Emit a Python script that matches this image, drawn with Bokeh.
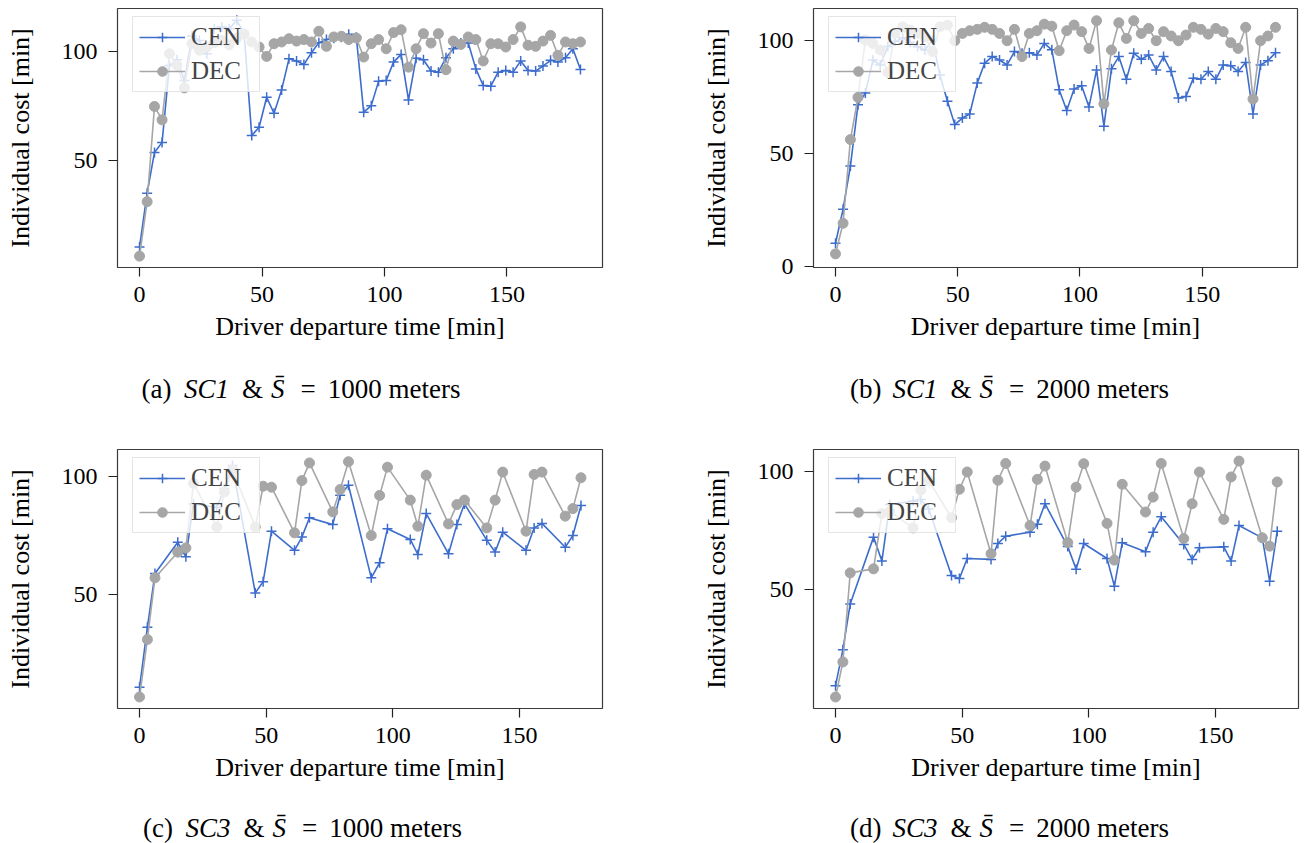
from bokeh.plotting import figure
from bokeh.models import Range1d, FixedTicker, Legend, LegendItem
from bokeh.layouts import column, row
from bokeh.core.properties import value
from bokeh.embed import file_html
from bokeh.resources import INLINE

# ---------------- data ----------------
# SC1 departure times (min)
time_sc1 = [0, 3.1, 6.1, 9.2, 12.2, 15.3, 18.3, 21.4, 24.4, 27.5, 30.5, 33.6, 36.6, 39.7,
            42.7, 45.8, 48.8, 51.9, 54.9, 58.0, 61.0, 64.1, 67.1, 70.2, 73.2, 76.3, 79.3,
            82.4, 85.4, 88.5, 91.5, 94.6, 97.6, 100.7, 103.7, 106.8, 109.8, 112.9, 115.9,
            119.0, 122.0, 125.1, 128.1, 131.2, 134.2, 137.3, 140.3, 143.4, 146.4, 149.5,
            152.5, 155.6, 158.6, 161.7, 164.7, 167.8, 170.8, 173.9, 176.9, 180.0]

cen_a = [10.6, 35.2, 53.8, 58.4, 93.5, 96.2, 86.7, 107, 105, 98.9, 110.4, 111.2, 110.4, 114.2,
         108, 61.5, 65.3, 79, 71.7, 82.4, 96.6, 95.6, 94, 99.4, 104, 105.4, 106, 106.5, 107.8,
         106.5, 72.2, 75.2, 86.4, 86.7, 95.1, 98.6, 77.8, 96.9, 96.2, 91, 90.5, 97.1, 101.2,
         103.8, 103.8, 92, 84.4, 84.1, 90.5, 91.3, 90.5, 95.6, 91.3, 91, 93.3, 95.9, 95.1,
         97.1, 101.2, 91.7]
dec_a = [6.4, 31.3, 74.8, 68.7, 98.9, 93.6, 83.3, 103.5, 100.5, 102, 104, 105, 103, 106,
         108, 104.3, 102, 97.7, 103.5, 104.3, 105.8, 104.7, 105.4, 104.3, 109.2, 102.3, 106.6,
         106.9, 105.4, 106.1, 97.4, 103.5, 105.4, 101.2, 108.6, 109.9, 92.8, 101.2, 108.1,
         103.8, 108.1, 91.6, 104.7, 103.2, 106.6, 105.4, 95.6, 103.5, 103.5, 102, 105.4,
         111.2, 102.8, 102.3, 104.7, 107.3, 98.2, 104.3, 103.5, 104.3]

cen_b = [10.4, 25.4, 44.4, 71.5, 76.6, 91.2, 89, 97.1, 99.3, 101, 99, 97, 95.6, 100, 84.6,
         73, 62.7, 65.6, 67.4, 81, 89.8, 92.7, 91.2, 89, 94.9, 94.2, 94.4, 93.4, 98.5, 95.7,
         78.1, 68.9, 78.4, 79.8, 70.5, 86.8, 62, 87.3, 92.7, 82.7, 94.2, 91.5, 93.4, 86.8,
         92.7, 86.1, 74.4, 75.1, 83.2, 82.7, 86.1, 82.7, 89, 88.7, 86.1, 90.1, 67.4, 89,
         90.9, 94.4]
dec_b = [5.7, 19.2, 56.1, 74.7, 100, 98.5, 95.6, 85.7, 103, 105.8, 104.4, 103, 101.5, 94.9,
         105.8, 106.6, 99.7, 102.9, 104.1, 104.7, 105.6, 104.7, 102.9, 99.7, 104.7, 92.7,
         102.9, 104.1, 107, 106.1, 95.3, 104.1, 106.6, 103.7, 96.3, 108.5, 71.9, 95.6, 107.6,
         100.7, 108.5, 102.9, 105.1, 99.7, 103.7, 101.8, 99.7, 102.2, 105.6, 104.7, 102.6,
         105.1, 103.7, 98.8, 96.3, 105.6, 74, 99.7, 101.8, 105.6]

# SC3 departure times (min)
time_c = [0, 3.1, 6.1, 15.1, 18.3, 21.3, 30.5, 33.5, 36.7, 45.7, 48.8, 52.1, 61.2, 64.1, 67.1,
          76.3, 79.2, 82.5, 91.5, 94.8, 97.9, 106.9, 109.9, 113.2, 122, 125.3, 128.3, 137.1,
          140.4, 143.4, 152.6, 155.8, 158.9, 168.1, 171.1, 174.3]
cen_c = [10.6, 36.1, 58.9, 72.2, 66, 88.5, 87, 95, 104.8, 50.7, 55.4, 76.9, 68.8, 74.4, 82.6,
         79.7, 92.2, 96.4, 57.1, 63.5, 77.9, 73.4, 67, 84.4, 67.3, 79.7, 88.5, 73.1, 68.1,
         76.5, 68.8, 78.3, 80.2, 70.1, 75.1, 87.8]
dec_c = [6.5, 30.9, 57.1, 68, 69.8, 97.2, 78.7, 93.5, 103, 78.7, 96, 95.6, 76.2, 98.4, 105.9,
         85.1, 94.6, 106.4, 75.1, 92.1, 104.1, 90.1, 79, 100.7, 80, 88.2, 90.1, 78.3, 90.1,
         102, 76.9, 101, 102, 83.3, 86.5, 99.6]

time_d = [0, 2.9, 5.8, 15, 18.3, 21.4, 30.6, 33.7, 36.8, 45.8, 48.9, 52, 61.4, 64.1, 67.2,
          76.8, 79.7, 82.7, 91.7, 95, 98, 107.2, 110.1, 113.2, 122.4, 125.4, 128.6, 137.5,
          140.8, 143.7, 153.3, 156.2, 159.3, 168.5, 171.4, 174.4]
cen_d = [9.4, 24.6, 43.9, 72.1, 62, 85.9, 87.3, 88, 84, 55.9, 54.6, 63.1, 62.7, 69.4, 72.5,
         74.2, 77.5, 86.2, 68.1, 58.5, 69.4, 63.1, 51.4, 69.7, 65.9, 74.2, 80.7, 69, 62.7,
         67.6, 68, 62, 77, 71.8, 53.5, 74.6]
dec_d = [4.6, 19.4, 57, 58.7, 82, 83, 76, 92, 96, 80.3, 92.3, 99.6, 65.1, 96.1, 103.2, 77,
         96.5, 102.1, 69.8, 93.2, 103.1, 77.9, 62.4, 94.4, 82.7, 89, 103.2, 71.5, 86.2, 99.6,
         79.6, 97.5, 104.2, 71.8, 68.3, 95.4]

x_ticks = [0, 50, 100, 150]
series_names = ["CEN", "DEC"]
x_label = "Driver departure time [min]"
y_label = "Individual cost [min]"

# caption pieces: (tag, scenario, distance)
captions = {
    "a": ("(a)", "SC1", "1000 meters"),
    "b": ("(b)", "SC1", "2000 meters"),
    "c": ("(c)", "SC3", "1000 meters"),
    "d": ("(d)", "SC3", "2000 meters"),
}

# ---------------- style ----------------
FONT = "Liberation Serif"
BLUE = "#3d6dcc"
GREY = "#a6a6a6"
W = 652


def make_panel(x, cen, dec, xr, yr, yticks, height, bl, br, bt, bb):
    p = figure(width=W, height=height, x_range=Range1d(*xr), y_range=Range1d(*yr),
               output_backend="svg", toolbar_location=None,
               min_border_left=bl, min_border_right=br, min_border_top=bt,
               min_border_bottom=bb)
    p.xgrid.visible = False
    p.ygrid.visible = False
    p.outline_line_color = "#3a3a3a"
    p.outline_line_width = 1.2

    p.xaxis.ticker = FixedTicker(ticks=x_ticks)
    p.yaxis.ticker = FixedTicker(ticks=yticks)
    for ax in (p.xaxis[0], p.yaxis[0]):
        ax.axis_line_color = None
        ax.major_tick_in = 0
        ax.major_tick_out = 9
        ax.major_tick_line_color = "#222222"
        ax.major_tick_line_width = 1.2
        ax.minor_tick_line_color = None
        ax.major_label_text_font = FONT
        ax.major_label_text_font_size = "24px"
        ax.major_label_text_color = "black"
        ax.axis_label_text_font = FONT
        ax.axis_label_text_font_size = "26px"
        ax.axis_label_text_font_style = "normal"
        ax.axis_label_text_color = "black"
    p.xaxis.axis_label = x_label
    p.yaxis.axis_label = y_label
    p.xaxis.major_label_standoff = 10
    p.xaxis.axis_label_standoff = 7
    p.yaxis.major_label_standoff = 11
    p.yaxis.axis_label_standoff = 24

    l1 = p.line(x, cen, line_color=BLUE, line_width=1.6)
    s1 = p.scatter(x, cen, marker="cross", size=10, line_color=BLUE, line_width=1.5)
    l2 = p.line(x, dec, line_color=GREY, line_width=1.6)
    s2 = p.scatter(x, dec, marker="circle", size=10, fill_color=GREY, line_color=GREY)

    legend = Legend(items=[LegendItem(label=series_names[0], renderers=[l1, s1]),
                           LegendItem(label=series_names[1], renderers=[l2, s2])],
                    location=(15, 175))
    legend.label_text_font = FONT
    legend.label_text_font_size = "25px"
    legend.glyph_width = 46
    legend.glyph_height = 24
    legend.label_height = 24
    legend.label_width = 62
    legend.label_standoff = 6
    legend.padding = 6
    legend.spacing = 6
    legend.margin = 0
    legend.border_line_color = "#cccccc"
    legend.border_line_width = 1.2
    legend.background_fill_alpha = 0.8
    p.add_layout(legend)
    return p


def make_caption(cap, height, x0, baseline):
    c = figure(width=W, height=height, x_range=Range1d(0, W), y_range=Range1d(height, 0),
               output_backend="svg", toolbar_location=None,
               x_axis_type=None, y_axis_type=None,
               min_border_left=0, min_border_right=0, min_border_top=0, min_border_bottom=0)
    c.xgrid.visible = False
    c.ygrid.visible = False
    c.outline_line_color = None
    tag, sc, tail = cap
    normal_txt = [tag, "&", "=", tail]
    normal_x = [x0, x0 + 100.5, x0 + 159.0, x0 + 186.3]
    italic_txt = [sc, "S\u0304"]
    italic_x = [x0 + 42.5, x0 + 129.5]
    c.text(x=normal_x, y=[baseline] * 4, text=normal_txt, text_font=value(FONT),
           text_font_size="27px", text_baseline="alphabetic", text_align="left",
           text_color="black")
    c.text(x=italic_x, y=[baseline] * 2, text=italic_txt, text_font=value(FONT),
           text_font_size="27px", text_font_style="italic", text_baseline="alphabetic",
           text_align="left", text_color="black")
    return c


pa = make_panel(time_sc1, cen_a, dec_a, (-9, 189), (1.2, 119.6), [50, 100],
                370, 117, 50, 8, 103)
pb = make_panel(time_sc1, cen_b, dec_b, (-9, 189), (-0.3, 113.9), [0, 50, 100],
                370, 161, 7, 8, 103)
pc = make_panel(time_c, cen_c, dec_c, (-8.7, 182.8), (1.6, 111.6), [50, 100],
                370, 117, 50, 9, 102)
pd = make_panel(time_d, cen_d, dec_d, (-8.7, 182.8), (-0.25, 109.1), [50, 100],
                370, 161, 6, 9, 102)

ca = make_caption(captions["a"], 70, 141.0, 18)
cb = make_caption(captions["b"], 70, 197.5, 18)
cc = make_caption(captions["c"], 33, 142.5, 17)
cd = make_caption(captions["d"], 33, 197.5, 17)

layout = column(row(pa, pb), row(ca, cb), row(pc, pd), row(cc, cd))
open("out.html", "w").write(file_html(layout, INLINE))
